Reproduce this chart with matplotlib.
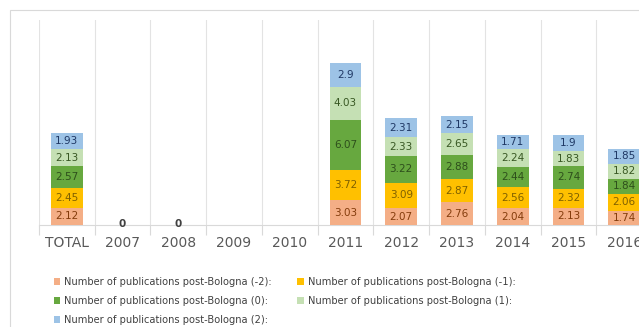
import numpy as np
import matplotlib.pyplot as plt
from matplotlib.patches import Rectangle

# Data (NaN = no value shown)
categories = ['TOTAL', '2007', '2008', '2009', '2010', '2011', '2012', '2013', '2014', '2015', '2016']
series_names = ['Number of publications post-Bologna (-2):',
                'Number of publications post-Bologna (-1):',
                'Number of publications post-Bologna (0):',
                'Number of publications post-Bologna (1):',
                'Number of publications post-Bologna (2):']
nan = np.nan
s_m2 = [2.12, 0, 0, nan, nan, 3.03, 2.07, 2.76, 2.04, 2.13, 1.74]
s_m1 = [2.45, 0, 0, nan, nan, 3.72, 3.09, 2.87, 2.56, 2.32, 2.06]
s_0 = [2.57, 0, 0, nan, nan, 6.07, 3.22, 2.88, 2.44, 2.74, 1.84]
s_p1 = [2.13, 0, 0, nan, nan, 4.03, 2.33, 2.65, 2.24, 1.83, 1.82]
s_p2 = [1.93, 0, 0, nan, nan, 2.9, 2.31, 2.15, 1.71, 1.9, 1.85]
series = [s_m2, s_m1, s_0, s_p1, s_p2]

colors = ['#F4AE86', '#FFC000', '#67A83F', '#C5E0B4', '#9DC3E6']
label_colors = ['#843C0C', '#7F6000', '#2E4F1C', '#385723', '#1F3864']

fig = plt.figure(figsize=(6.39, 3.27), dpi=100)
W, H = 639, 327

# outer chart border
fig.patches.append(Rectangle((10 / W, -0.1), 1.2, 1 - 10 / H + 0.1, transform=fig.transFigure,
                             fill=False, edgecolor='#d9d9d9', linewidth=0.8))

ax = fig.add_axes([39 / W, 102 / H, 613 / W, 205 / H])
x = np.arange(len(categories))
bottom = np.zeros(len(categories))
for vals, c, lc, name in zip(series, colors, label_colors, series_names):
    v = np.array(vals, dtype=float)
    h = np.nan_to_num(v)
    ax.bar(x, h, bottom=bottom, width=0.57, color=c, label=name, zorder=3)
    for i, val in enumerate(v):
        if np.isnan(val) or val == 0:
            continue
        ax.text(x[i], bottom[i] + h[i] / 2, f'{val:g}', ha='center', va='center',
                fontsize=7.5, color=lc, zorder=4)
    bottom += h

# zero labels for 2007 / 2008
for i in [1, 2]:
    ax.text(x[i], 0.1, '0', ha='center', va='center', fontsize=7.5,
            fontweight='bold', color='#404040', zorder=4)

ax.set_xlim(-0.5, len(categories) - 0.5)
ax.set_ylim(0, 25)
ax.set_yticks([])
ax.set_xticks(x)
ax.set_xticklabels(categories, fontsize=10, color='#595959')
ax.set_xticks(np.arange(-0.5, len(categories), 1), minor=True)
ax.tick_params(axis='x', which='major', length=0, pad=8)
ax.tick_params(axis='x', which='minor', length=7, color='#d9d9d9', width=0.8)
ax.grid(axis='x', which='minor', color='#e3e3e3', linewidth=0.8, zorder=0)
for side in ['top', 'right', 'left']:
    ax.spines[side].set_visible(False)
ax.spines['bottom'].set_color('#d9d9d9')
ax.spines['bottom'].set_linewidth(0.8)

# legend: row-wise order in two columns
handles, labels = ax.get_legend_handles_labels()
order = [0, 2, 4, 1, 3]
fig.legend([handles[i] for i in order], [labels[i] for i in order], ncol=2,
           loc='upper left', bbox_to_anchor=(45 / W, 1 - 268 / H), frameon=False,
           fontsize=7.1, handlelength=0.65, handleheight=0.65, handletextpad=0.4,
           columnspacing=2.6, labelspacing=0.93, labelcolor='#404040')

fig.savefig('out.png', dpi=100)
